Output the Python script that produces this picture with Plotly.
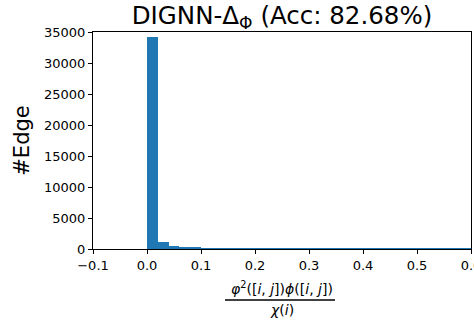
import plotly.graph_objects as go

# Histogram bins (left edges, width 0.02) and counts
bin_left = [0.00, 0.02, 0.04, 0.06, 0.08, 0.10, 0.12, 0.14, 0.16, 0.18,
            0.20, 0.22, 0.24, 0.26, 0.28, 0.30, 0.32, 0.34, 0.36, 0.38,
            0.40, 0.42, 0.44, 0.46, 0.48, 0.50, 0.52, 0.54, 0.56, 0.58]
bin_width = 0.02
counts = [34150, 1050, 440, 230, 230, 70, 60, 50, 45, 40,
          40, 35, 30, 30, 25, 25, 25, 20, 20, 20,
          20, 15, 15, 15, 15, 15, 10, 10, 10, 10]

x_ticks = [-0.1, 0.0, 0.1, 0.2, 0.3, 0.4, 0.5, 0.6]
x_ticktext = ["\u22120.1", "0.0", "0.1", "0.2", "0.3", "0.4", "0.5", "0.6"]
y_ticks = [0, 5000, 10000, 15000, 20000, 25000, 30000, 35000]

title_text = "DIGNN-\u0394<sub>\u03a6</sub> (Acc: 82.68%)"
ylabel = "#Edge"
num_text = "<i>\u03c6</i><sup>2</sup>([<i>i</i>, <i>j</i>])<i>\u03d5</i>([<i>i</i>, <i>j</i>])"
den_text = "<i>\u03c7</i>(<i>i</i>)"

FONT = "DejaVu Sans"
centers = [b + bin_width / 2 for b in bin_left]

fig = go.Figure(go.Bar(
    x=centers, y=counts, width=[bin_width] * len(counts),
    marker=dict(color="#1f77b4", line=dict(width=0)),
))

fig.update_layout(
    width=474, height=322,
    margin=dict(l=93, r=3, t=32, b=73, autoexpand=False),
    paper_bgcolor="white", plot_bgcolor="white",
    font=dict(family=FONT, size=13, color="black"),
    showlegend=False,
    bargap=0,
    title=dict(text=title_text, x=(93 + 378 / 2) / 474, xanchor="center",
               y=1 - 15 / 322, yanchor="middle", yref="container",
               font=dict(family=FONT, size=24.5, color="black")),
    xaxis=dict(range=[-0.1, 0.6], tickmode="array", tickvals=x_ticks, ticktext=x_ticktext,
               showgrid=False, zeroline=False, showline=True, linecolor="black", linewidth=1,
               mirror=True, ticks="outside", ticklen=4, tickwidth=1, tickcolor="black",
               ticklabeloverflow="allow", automargin=False,
               tickfont=dict(family=FONT, size=13, color="black")),
    yaxis=dict(range=[0, 35000], tickmode="array", tickvals=y_ticks,
               ticktext=[str(v) for v in y_ticks], automargin=False,
               showgrid=False, zeroline=False, showline=True, linecolor="black", linewidth=1,
               mirror=True, ticks="outside", ticklen=4, tickwidth=1, tickcolor="black",
               tickfont=dict(family=FONT, size=13, color="black"),
               title=dict(text=ylabel, font=dict(family=FONT, size=21, color="black"), standoff=8)),
    annotations=[
        dict(text=num_text, xref="paper", yref="paper", x=0.5, y=0, xanchor="center",
             yanchor="middle", yshift=-39, showarrow=False,
             font=dict(family=FONT, size=14, color="black")),
        dict(text=den_text, xref="paper", yref="paper", x=0.5, y=0, xanchor="center",
             yanchor="middle", yshift=-61, showarrow=False,
             font=dict(family=FONT, size=14, color="black")),
    ],
    shapes=[dict(type="line", xref="paper", yref="paper",
                 x0=(225 - 93) / 378, x1=(335 - 93) / 378,
                 y0=-51 / 217, y1=-51 / 217, line=dict(color="black", width=1.3))],
)

fig.write_html("out.html")
